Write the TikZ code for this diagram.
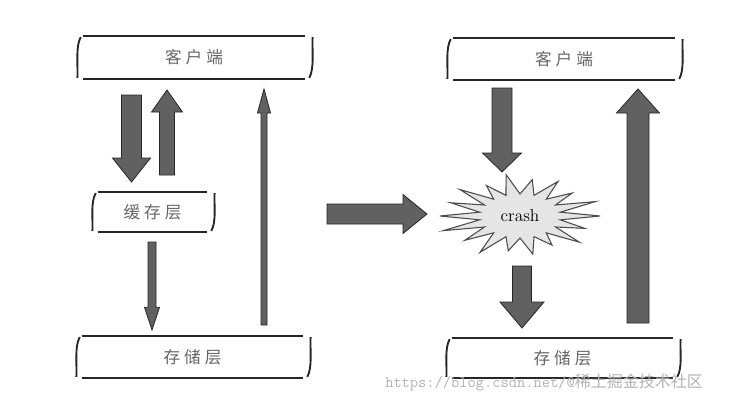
\documentclass[tikz,border=0pt]{standalone}
\usepackage{fontspec}
\newfontfamily\cjk{Noto Sans CJK SC}
\usetikzlibrary{calc}

\begin{document}
\begin{tikzpicture}[
        x=0.75pt, y=-0.75pt,
        every node/.style={inner sep=0pt},
        layer/.style={
            font=\cjk\fontsize{12.5}{12.5}\selectfont,
            text=black!60
        },
        rule/.style={line width=1.4pt, draw=black!85},
        fat/.style n args={3}{
            fill=black!62, draw=black!85, line width=0.6pt, line join=miter,
            to path={
                let \p1=($(\tikztotarget)!#3!(\tikztostart)$) in
                ($(\tikztostart)!#1!90:(\tikztotarget)$) -- ($(\p1)!#1!90:(\tikztotarget)$)
                -- ($(\p1)!#2!90:(\tikztotarget)$) -- (\tikztotarget)
                -- ($(\p1)!#2!-90:(\tikztotarget)$) -- ($(\p1)!#1!-90:(\tikztotarget)$)
                -- ($(\tikztostart)!#1!-90:(\tikztotarget)$) -- cycle
            }
        },
        burst/.style={fill=black!10, draw=black!70, line width=0.8pt, line join=miter}
    ]
        \useasboundingbox (0,0) rectangle (747,404);

        % Layers, left side
        \node[layer, minimum width=166.5pt, minimum height=32.25pt] (cli1) at (194,57.5) {客\hspace{3pt}户\hspace{3pt}端};
        \node[layer, minimum width=81.75pt, minimum height=30pt] (cache) at (152.5,212) {缓\hspace{3pt}存\hspace{3pt}层};
        \node[layer, minimum width=165.75pt, minimum height=31.5pt] (store1) at (192.5,357) {存\hspace{3pt}储\hspace{3pt}层};

        % Layers, right side
        \node[layer, minimum width=166.5pt, minimum height=31.5pt] (cli2) at (564,59) {客\hspace{3pt}户\hspace{3pt}端};
        \node[layer, minimum width=165.75pt, minimum height=30pt] (store2) at (562.5,358) {存\hspace{3pt}储\hspace{3pt}层};

        % Hand-drawn frames
        \foreach \n in {cli1,cache,store1,cli2,store2}{
            \draw[rule] (\n.north west) -- (\n.north east);
            \draw[rule] (\n.south west) -- (\n.south east);
            \draw[rule] ([xshift=-1.5pt,yshift=-1pt]\n.north west) .. controls +(-4pt,-7pt) and +(0.5pt,9pt) .. ([xshift=-4pt,yshift=1pt]\n.south west);
            \draw[rule] ([xshift=5.5pt,yshift=-1pt]\n.north east) .. controls +(-0.5pt,-9pt) and +(4pt,7pt) .. ([xshift=3pt,yshift=1pt]\n.south east);
        }

        % Crash
        \node[font=\fontsize{13}{13}\selectfont] (crash) at (520,216) {};
        \draw[burst] ($(crash.center)+(0:80 and 42)$)
            \foreach \a/\r in {20/0.86,40/0.97,60/0.8,80/0.92,100/0.84,120/1.0,140/0.9,160/1.02,180/1.0,
                               200/0.92,220/0.98,240/0.84,260/1.0,280/0.88,300/0.95,320/0.85,340/1.0}{
                -- ($(crash.center)+(\a-10:41 and 22)$)
                -- ($(crash.center)+(\a:{80*\r} and {42*\r})$)
            }
            -- ($(crash.center)+(350:41 and 22)$) -- cycle;
        \node[font=\fontsize{13}{13}\selectfont] (crashtext) at (crash) {crash};

        % Arrow ends
        \coordinate (a1s) at (131.5,95);  \coordinate (a1e) at (131.5,182);
        \coordinate (a2s) at (167,175);   \coordinate (a2e) at (167,90);
        \coordinate (a3s) at (152,242);   \coordinate (a3e) at (152,330);
        \coordinate (a4s) at (264,325);   \coordinate (a4e) at (264,89);
        \coordinate (a5s) at (327,214);   \coordinate (a5e) at (427,214);
        \coordinate (a6s) at (502,88);    \coordinate (a6e) at (502,172);
        \coordinate (a7s) at (522,266);   \coordinate (a7e) at (522,328);
        \coordinate (a8s) at (638,323);   \coordinate (a8e) at (638,89);

        % Left flow
        \draw[fat={7.5pt}{14.25pt}{18pt}] (a1s) to (a1e);
        \draw[fat={5.6pt}{11.6pt}{16.5pt}] (a2s) to (a2e);
        \draw[fat={3pt}{5.6pt}{17pt}] (a3s) to (a3e);
        \draw[fat={2.25pt}{4.9pt}{18pt}] (a4s) to (a4e);

        % Middle
        \draw[fat={7.5pt}{14.6pt}{18pt}] (a5s) to (a5e);

        % Right flow
        \draw[fat={7.5pt}{14.6pt}{14.25pt}] (a6s) to (a6e);
        \draw[fat={7.1pt}{16.5pt}{19.5pt}] (a7s) to (a7e);
        \draw[fat={8.25pt}{16.1pt}{18pt}] (a8s) to (a8e);

        % Watermark
        \node[anchor=west, text=black!30, font=\ttfamily\fontsize{12}{12}\selectfont] (wm) at (385,383) {https://blog.csdn.net/@{\cjk 稀土掘金技术社区}};

    \end{tikzpicture}
\end{document}
